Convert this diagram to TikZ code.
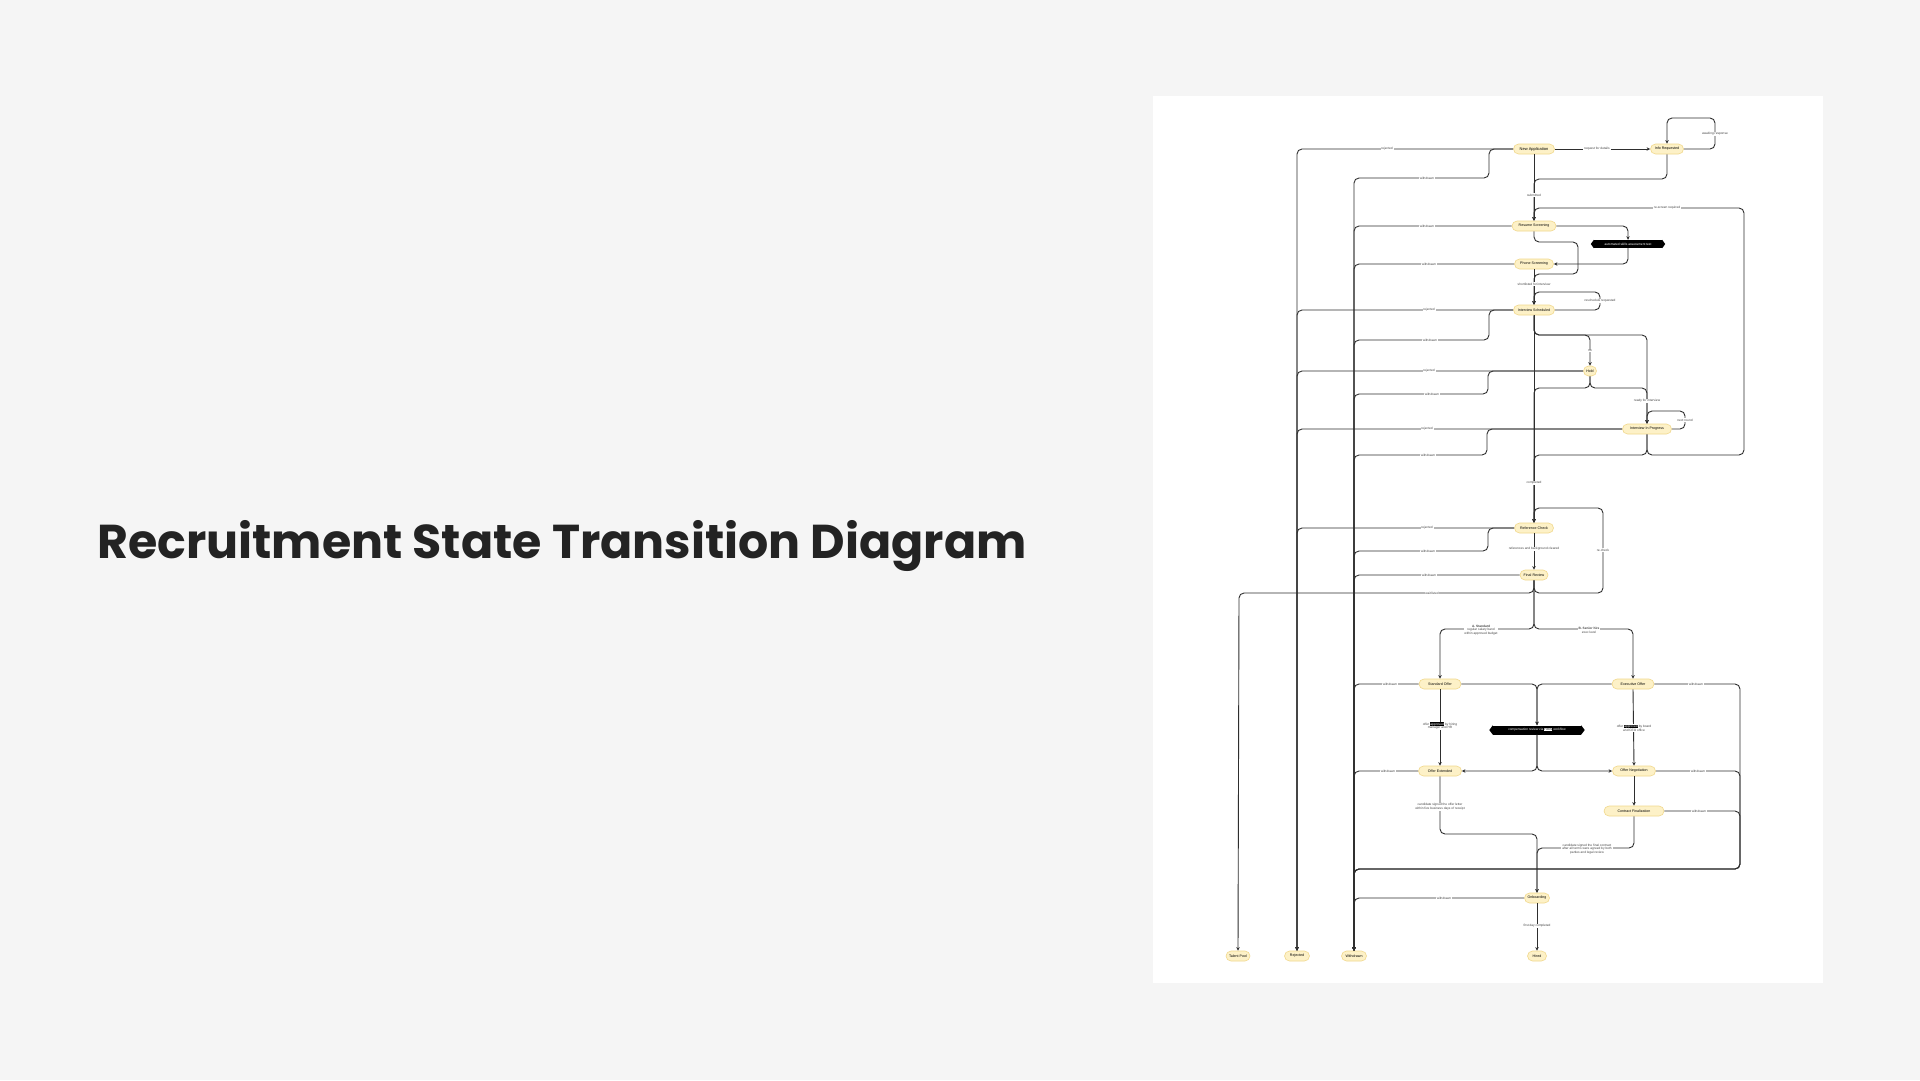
\documentclass[tikz,border=0pt]{standalone}
\usepackage{fontspec}
\setmainfont{Liberation Sans}
\newfontfamily\titlefont{Poppins}
\usetikzlibrary{arrows.meta,shapes.misc,calc}
\definecolor{bgc}{HTML}{F5F5F5}
\definecolor{stf}{HTML}{FDF1C7}
\definecolor{stb}{HTML}{F1D88C}
\definecolor{ln}{HTML}{2E2E2E}
\definecolor{lbc}{HTML}{444444}
\definecolor{ttl}{HTML}{232323}
\newcommand{\hlb}[1]{{\setlength{\fboxsep}{0.3pt}\colorbox{black}{\textcolor{white}{#1}}}}
\newcommand{\hlw}[1]{{\setlength{\fboxsep}{0.3pt}\colorbox{white}{\textcolor{black}{#1}}}}
\begin{document}
\begin{tikzpicture}[x=1pt,y=-1pt,
  st/.style={rounded rectangle, draw=stb, line width=0.6pt, fill=stf, minimum height=10pt, inner xsep=1pt, inner ysep=0pt, font=\fontsize{3.6}{4}\selectfont, text=black},
  mw/.style={minimum width=#1},
  hx/.style={fill=black, text=white, minimum height=8pt, inner xsep=1pt, inner ysep=0pt, font=\fontsize{3.2}{3.6}\selectfont},
  e/.style={draw=ln, line width=0.9pt, rounded corners=5pt, -{Stealth[length=3.6pt,width=3.4pt]}},
  lbl/.style={fill=white, inner xsep=0.8pt, inner ysep=0.5pt, font=\fontsize{3.2}{3.8}\selectfont, text=lbc, align=center}
]
\useasboundingbox (0,0) rectangle (1920,1080);
\fill[bgc] (0,0) rectangle (1920,1080);
\fill[white] (1153,96) rectangle (1823,983);
\node[anchor=base west, inner sep=0pt, text=ttl, font=\titlefont\bfseries\fontsize{47.5}{56}\selectfont] (title) at (97,558) {Recruitment State Transition Diagram};

% states
\node[st, mw=43pt, font=\fontsize{4}{4.4}\selectfont] (na) at (1534,149) {New Application};
\node[st, mw=35pt] (info) at (1667,149) {Info Requested};
\node[st, mw=46pt] (scr) at (1534,226) {Resume Screening};
\node[hx, minimum width=68pt] (hx1) at (1628,244) {automated skills assessment test};
\fill[black] (hx1.north east) -- ($(hx1.east)+(3,0)$) -- (hx1.south east) -- cycle;
\fill[black] (hx1.north west) -- ($(hx1.west)+(-3,0)$) -- (hx1.south west) -- cycle;
\node[st, mw=41pt] (ph) at (1534,264) {Phone Screening};
\node[st, mw=43pt] (isch) at (1534,310) {Interview Scheduled};
\node[st, mw=15pt] (hold) at (1590,371) {Hold};
\node[st, mw=51pt] (intv) at (1647,429) {Interview In Progress};
\node[st, mw=41pt] (ref) at (1534,528) {Reference Check};
\node[st, mw=30pt] (fin) at (1534,575) {Final Review};
\node[st, mw=44pt] (offA) at (1440,684) {Standard Offer};
\node[st, mw=44pt] (offB) at (1633,684) {Executive Offer};
\node[hx, minimum width=88pt, minimum height=9pt] (hx2) at (1537,730) {compensation review via \hlw{HRIS} workflow};
\fill[black] (hx2.north east) -- ($(hx2.east)+(3.5,0)$) -- (hx2.south east) -- cycle;
\fill[black] (hx2.north west) -- ($(hx2.west)+(-3.5,0)$) -- (hx2.south west) -- cycle;
\node[st, mw=45pt] (sent) at (1440,771) {Offer Extended};
\node[st, mw=45pt] (neg) at (1634,771) {Offer Negotiation};
\node[st, mw=62pt] (contract) at (1634,811) {Contract Finalization};
\node[st, mw=27pt] (onb) at (1537,898) {Onboarding};
\node[st, mw=26pt] (pool) at (1238,956) {Talent Pool};
\node[st, mw=27pt] (rej) at (1297,956) {Rejected};
\node[st, mw=27pt] (wdn) at (1354,956) {Withdrawn};
\node[st, mw=21pt] (hired) at (1537,956) {Hired};

% transitions
\draw[e] (na.west) -- (1297,149) -- (rej.north);
\draw[e] (na.west) -- (1489,149) -- (1489,178) -- (1354,178) -- (wdn.north);
\draw[e] (na.east) -- (info.west);
\draw[e] (info.east) -- (1715,149) -- (1715,118) -- (1667,118) -- (info.north);
\draw[e] (info.south) -- (1667,179) -- (1534,179) -- (scr.north);
\draw[e] (na.south) -- (scr.north);
\draw[e] (intv.south) -- (1647,455) -- (1744,455) -- (1744,208) -- (1534,208) -- (scr.north);
\draw[e] (scr.west) -- (1354,226) -- (wdn.north);
\draw[e] (scr.east) -- (1628,226) -- (hx1.north);
\draw[e] (hx1.south) -- (1628,264) -- (ph.east);
\draw[e] (ph.west) -- (1354,264) -- (wdn.north);
\draw[e] (scr.south) -- (1534,242) -- (1578,242) -- (1578,274) -- (1534,274) -- (isch.north);
\draw[e] (ph.south) -- (isch.north);
\draw[e] (isch.east) -- (1600,310) -- (1600,292) -- (1534,292) -- (isch.north);
\draw[e] (isch.west) -- (1297,310) -- (rej.north);
\draw[e] (isch.west) -- (1489,310) -- (1489,340) -- (1354,340) -- (wdn.north);
\draw[e] (isch.south) -- (1534,335) -- (1590,335) -- (hold.north);
\draw[e] (isch.south) -- (1534,335) -- (1647,335) -- (intv.north);
\draw[e] (hold.south) -- (1590,388) -- (1647,388) -- (intv.north);
\draw[e] (hold.west) -- (1297,371) -- (rej.north);
\draw[e] (hold.west) -- (1488,371) -- (1488,394) -- (1354,394) -- (wdn.north);
\draw[e] (hold.south) -- (1590,388) -- (1534,388) -- (ref.north);
\draw[e] (isch.south) -- (ref.north);
\draw[e] (intv.east) -- (1685,429) -- (1685,411) -- (1647,411) -- (intv.north);
\draw[e] (intv.west) -- (1297,429) -- (rej.north);
\draw[e] (intv.west) -- (1487,429) -- (1487,455) -- (1354,455) -- (wdn.north);
\draw[e] (intv.south) -- (1647,455) -- (1534,455) -- (ref.north);
\draw[e] (ref.west) -- (1297,528) -- (rej.north);
\draw[e] (ref.west) -- (1488,528) -- (1488,551) -- (1354,551) -- (wdn.north);
\draw[e] (ref.south) -- (fin.north);
\draw[e] (fin.west) -- (1354,575) -- (wdn.north);
\draw[e] (fin.south) -- (1534,593) -- (1239,593) -- (pool.north);
\draw[e] (fin.south) -- (1534,593) -- (1603,593) -- (1603,508) -- (1534,508) -- (ref.north);
\draw[e] (fin.south) -- (1534,629) -- (1440,629) -- (offA.north);
\draw[e] (fin.south) -- (1534,629) -- (1633,629) -- (offB.north);
\draw[e] (offA.east) -- (1537,684) -- (hx2.north);
\draw[e] (offB.west) -- (1537,684) -- (hx2.north);
\draw[e] (offA.west) -- (1354,684) -- (wdn.north);
\draw[e] (offB.east) -- (1740,684) -- (1740,869) -- (1354,869) -- (wdn.north);
\draw[e] (offA.south) -- (sent.north);
\draw[e] (offB.south) -- (neg.north);
\draw[e] (hx2.south) -- (1537,771) -- (sent.east);
\draw[e] (hx2.south) -- (1537,771) -- (neg.west);
\draw[e] (sent.west) -- (1354,771) -- (wdn.north);
\draw[e] (neg.east) -- (1740,771) -- (1740,869) -- (1354,869) -- (wdn.north);
\draw[e] (neg.south) -- (contract.north);
\draw[e] (contract.east) -- (1740,811) -- (1740,869) -- (1354,869) -- (wdn.north);
\draw[e] (sent.south) -- (1440,834) -- (1537,834) -- (onb.north);
\draw[e] (contract.south) -- (1634,848) -- (1537,848) -- (onb.north);
\draw[e] (onb.west) -- (1354,898) -- (wdn.north);
\draw[e] (onb.south) -- (hired.north);

% labels
\node[lbl] (l1) at (1387,149) {rejected};
\node[lbl] (l2) at (1427,178) {withdrawn};
\node[lbl] (l3) at (1597,149) {request for details};
\node[lbl] (l4) at (1715,134) {awaiting response};
\node[lbl] (l5) at (1534,195) {submitted};
\node[lbl] (l6) at (1667,208) {re-screen required};
\node[lbl] (l7) at (1427,226) {withdrawn};
\node[lbl] (l8) at (1429,264) {withdrawn};
\node[lbl] (l9) at (1534,284) {shortlisted for interview};
\node[lbl] (l10) at (1600,301) {reschedule requested};
\node[lbl] (l11) at (1429,310) {rejected};
\node[lbl] (l12) at (1430,340) {withdrawn};
\node[lbl] (l13) at (1590,351) {no};
\node[lbl] (l14) at (1429,371) {rejected};
\node[lbl] (l15) at (1432,394) {withdrawn};
\node[lbl] (l16) at (1647,401) {ready for interview};
\node[lbl] (l17) at (1685,420) {next round};
\node[lbl] (l18) at (1427,429) {rejected};
\node[lbl] (l19) at (1428,455) {withdrawn};
\node[lbl] (l20) at (1534,483) {completed};
\node[lbl] (l21) at (1427,528) {rejected};
\node[lbl] (l22) at (1428,551) {withdrawn};
\node[lbl] (l23) at (1534,549) {references and background cleared};
\node[lbl] (l24) at (1429,575) {withdrawn};
\node[lbl] (l25) at (1603,550) {re-check};
\node[lbl] (l26) at (1432,593) {waitlisted};
\node[lbl] (l27) at (1481,630) {\textbf{A. Standard}\\regular salary band\\within approved budget};
\node[lbl] (l28) at (1589,630) {\textbf{B. Senior hire}\\exec level};
\node[lbl] (l29) at (1390,684) {withdrawn};
\node[lbl] (l30) at (1696,684) {withdrawn};
\node[lbl] (l31) at (1440,726) {offer \hlb{approved} by hiring\\manager and HR};
\node[lbl] (l32) at (1634,728) {offer \hlb{approved} by board\\and CEO office};
\node[lbl] (l33) at (1388,771) {withdrawn};
\node[lbl] (l34) at (1698,771) {withdrawn};
\node[lbl] (l35) at (1699,811) {withdrawn};
\node[lbl] (l36) at (1440,807) {candidate signed the offer letter\\within five business days of receipt};
\node[lbl] (l37) at (1587,849) {candidate signed the final contract\\after all terms were agreed by both\\parties and legal review};
\node[lbl] (l38) at (1444,898) {withdrawn};
\node[lbl] (l39) at (1537,926) {first day completed};
\end{tikzpicture}
\end{document}
